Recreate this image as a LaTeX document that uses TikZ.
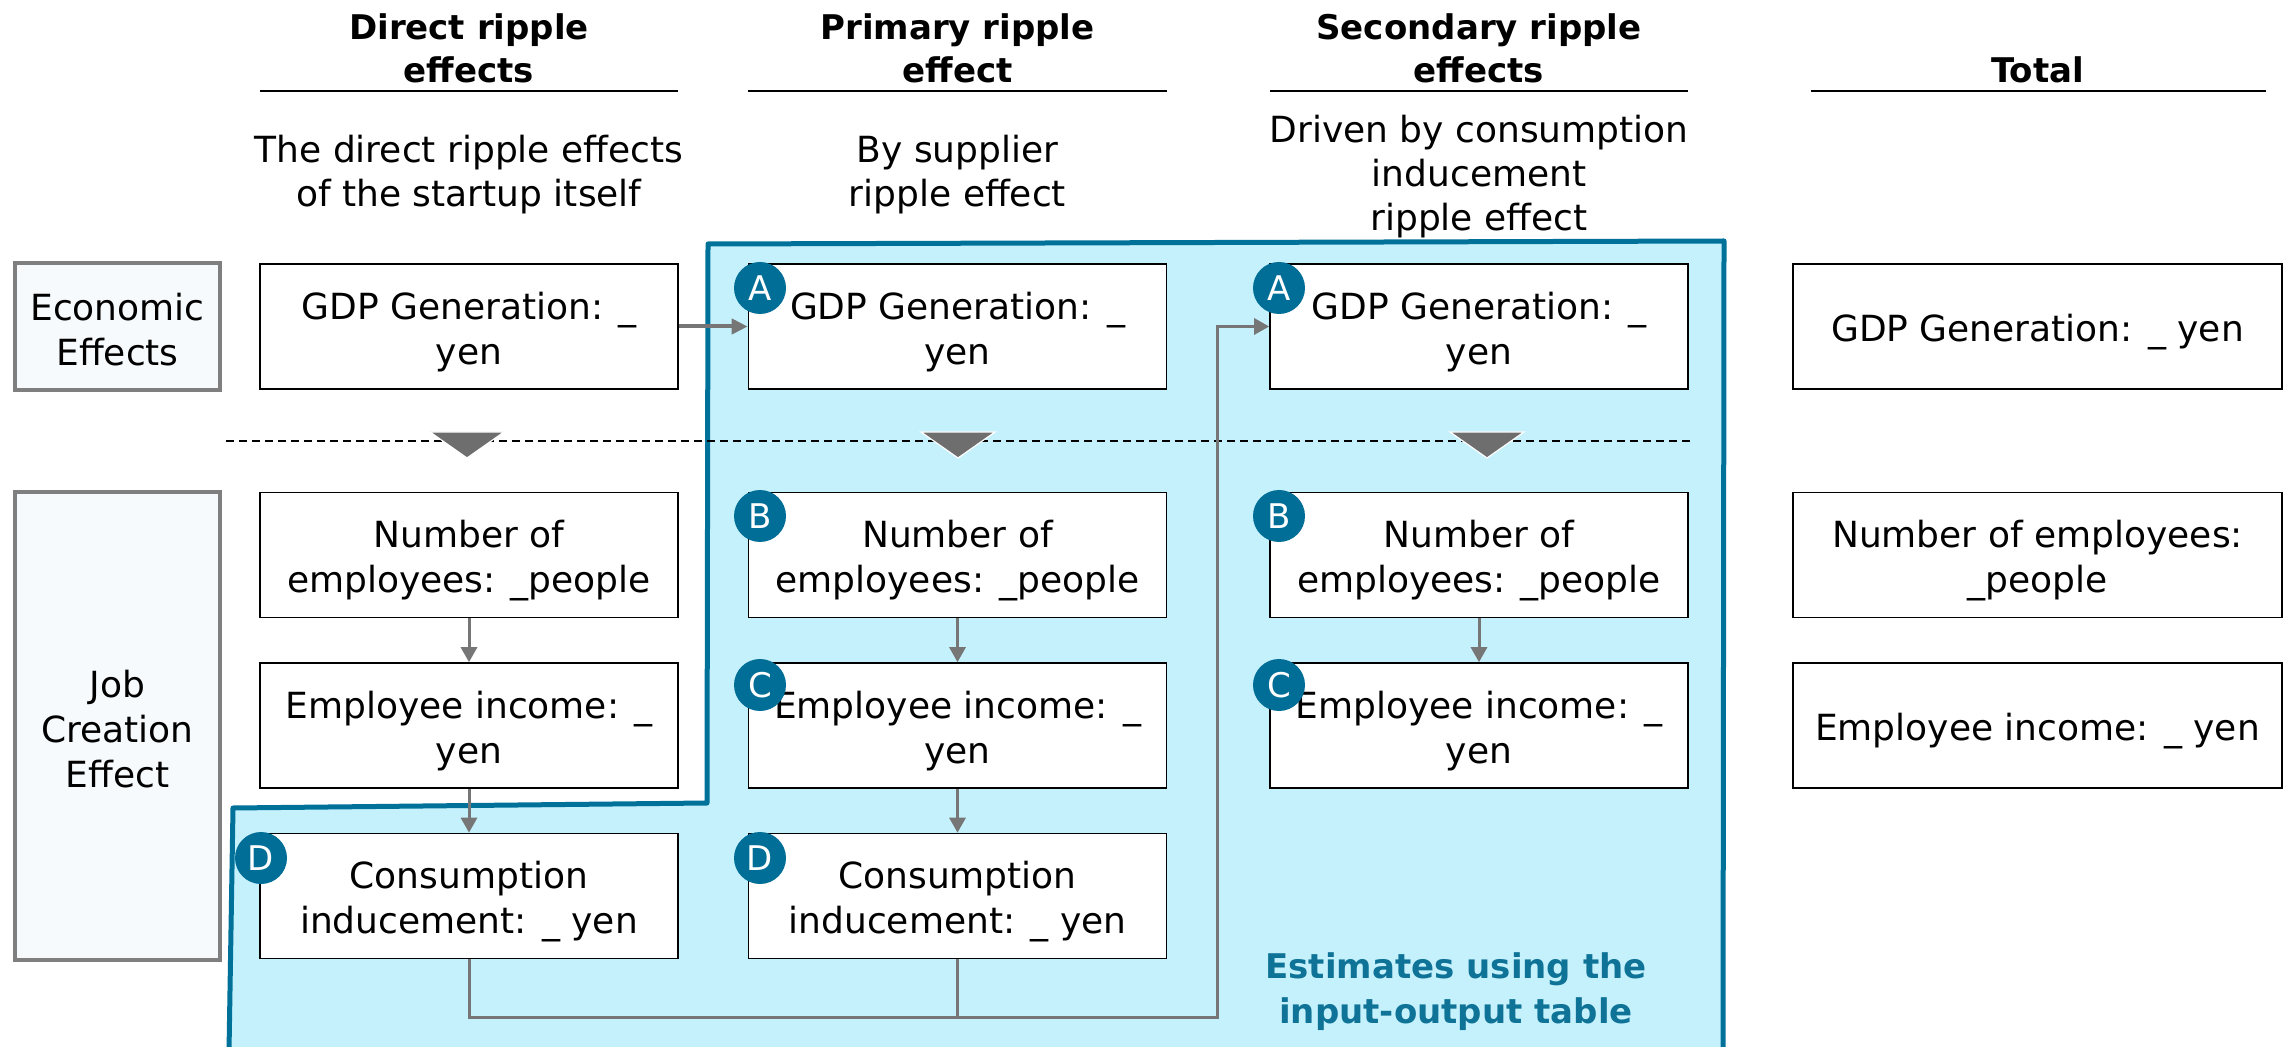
\documentclass[tikz,border=0pt]{standalone}
\usepackage{fontspec}
\setmainfont{DejaVu Sans}
\usetikzlibrary{arrows.meta}

\definecolor{badgeblue}{RGB}{0,110,150}
\definecolor{regionfill}{RGB}{197,241,253}
\definecolor{regionline}{RGB}{0,114,154}
\definecolor{arrowgray}{RGB}{118,118,118}
\definecolor{markgray}{RGB}{110,110,110}
\definecolor{sidefill}{RGB}{247,250,252}
\definecolor{sideline}{RGB}{127,127,127}
\definecolor{estcolor}{RGB}{14,115,150}

\begin{document}
\begin{tikzpicture}[x=0.5pt,y=-0.5pt,
  every node/.style={font=\fontsize{18}{22.5}\selectfont},
  effbox/.style={draw=black, line width=0.8pt, fill=white,
    inner sep=0pt, minimum width=209pt, minimum height=62.5pt},
  totbox/.style={effbox, minimum width=244.5pt},
  boxtext/.style={align=center, inner sep=0pt, yshift=-3pt,
    font=\fontsize{18}{22.5}\selectfont},
  sidebox/.style={draw=sideline, line width=2pt, fill=sidefill,
    inner sep=0pt, minimum width=102.5pt},
  sidetext/.style={align=center, inner sep=0pt, yshift=-1.5pt,
    font=\fontsize{18}{22.5}\selectfont},
  colhead/.style={align=center, inner sep=0pt, font=\fontsize{17}{21.5}\selectfont\bfseries},
  colsub/.style={align=center, inner sep=0pt, font=\fontsize{18}{22}\selectfont},
  headrule/.style={line width=1pt},
  badge/.style={circle, fill=badgeblue, text=white, inner sep=0pt,
    minimum size=26pt, font=\fontsize{17}{17}\selectfont},
  flow/.style={draw=arrowgray, line width=1.5pt,
    -{Triangle[length=7.5pt,width=8pt]}},
  bigflow/.style={draw=arrowgray, line width=2pt,
    -{Triangle[length=8pt,width=7.5pt]}},
  feed/.style={draw=arrowgray, line width=1.5pt},
  marker/.style={fill=markgray, draw=white, line width=0.6pt},
  estnote/.style={align=center, inner sep=0pt, text=estcolor,
    font=\fontsize{17}{22.5}\selectfont\bfseries}
]
\useasboundingbox (0,0) rectangle (2290,1047);

% shaded area covered by the input-output table estimates
\fill[regionfill] (229,1052) -- (233,808) -- (707,803) -- (708,244)
  -- (1724,241) -- (1723,1052) -- cycle;
\draw[regionline, line width=2.5pt, line join=round]
  (229,1052) -- (233,808) -- (707,803) -- (708,244)
  -- (1724,241) -- (1723,1052);

% column headings
\node[colhead] (hd) at (469,48.5) {Direct ripple\\effects};
\node[colhead] (hp) at (957.5,48.5) {Primary ripple\\effect};
\node[colhead] (hs) at (1479,48.5) {Secondary ripple\\effects};
\node[colhead] (ht) at (2037.5,70) {Total};
\draw[headrule] (260,91) -- (678,91);
\draw[headrule] (748,91) -- (1167,91);
\draw[headrule] (1270,91) -- (1688,91);
\draw[headrule] (1811,91) -- (2266,91);

\node[colsub] (sd) at (469,175) {The direct ripple effects\\of the startup itself};
\node[colsub] (sp) at (957.5,175) {By supplier\\ripple effect};
\node[colsub] (ss) at (1479,177) {Driven by consumption\\inducement\\ripple effect};

% row labels
\node[sidebox, minimum height=63.5pt] (econ) at (117.5,326.5) {};
\node[sidetext] (econt) at (econ) {Economic\\Effects};
\node[sidebox, minimum height=234pt] (job) at (117.5,726) {};
\node[sidetext] (jobt) at (job) {Job\\Creation\\Effect};

% divider between the two kinds of effect
\draw[dashed, dash pattern=on 4pt off 2.5pt, line width=0.7pt] (226,441) -- (1693,441);
\foreach \cx in {467,958,1487}
  \filldraw[marker] (\cx-37,432) -- (\cx+37,432) -- (\cx,458) -- cycle;

% direct ripple effects
\node[effbox] (d1) at (469,326.5) {};
\node[effbox] (d2) at (469,555) {};
\node[effbox] (d3) at (469,725.5) {};
\node[effbox] (d4) at (469,896) {};
\node[boxtext] (d1t) at (d1) {GDP Generation: \_\\yen};
\node[boxtext] (d2t) at (d2) {Number of\\employees: \_people};
\node[boxtext] (d3t) at (d3) {Employee income: \_\\yen};
\node[boxtext] (d4t) at (d4) {Consumption\\inducement: \_ yen};

% primary ripple effect
\node[effbox] (p1) at (957.5,326.5) {};
\node[effbox] (p2) at (957.5,555) {};
\node[effbox] (p3) at (957.5,725.5) {};
\node[effbox] (p4) at (957.5,896) {};
\node[boxtext] (p1t) at (p1) {GDP Generation: \_\\yen};
\node[boxtext] (p2t) at (p2) {Number of\\employees: \_people};
\node[boxtext] (p3t) at (p3) {Employee income: \_\\yen};
\node[boxtext] (p4t) at (p4) {Consumption\\inducement: \_ yen};

% secondary ripple effects
\node[effbox] (s1) at (1479,326.5) {};
\node[effbox] (s2) at (1479,555) {};
\node[effbox] (s3) at (1479,725.5) {};
\node[boxtext] (s1t) at (s1) {GDP Generation: \_\\yen};
\node[boxtext] (s2t) at (s2) {Number of\\employees: \_people};
\node[boxtext] (s3t) at (s3) {Employee income: \_\\yen};

% totals
\node[totbox] (t1) at (2037.5,326.5) {};
\node[totbox] (t2) at (2037.5,555) {};
\node[totbox] (t3) at (2037.5,725.5) {};
\node[boxtext] (t1t) at (t1) {GDP Generation: \_ yen};
\node[boxtext] (t2t) at (t2) {Number of employees:\\\_people};
\node[boxtext] (t3t) at (t3) {Employee income: \_ yen};

% connectors
\draw[bigflow] (d1.east) -- (p1.west);
\draw[flow] (d2) -- (d3);
\draw[flow] (d3) -- (d4);
\draw[flow] (p2) -- (p3);
\draw[flow] (p3) -- (p4);
\draw[flow] (s2) -- (s3);
\coordinate (jn) at (1217,1017);
\draw[feed] (p4.south) -- (p4.south |- jn);
\draw[flow] (d4.south) |- (jn) |- (s1.west);

% item markers
\node[badge] (ap) at (760,288) {A};
\node[badge] (bp) at (760,516) {B};
\node[badge] (cp) at (760,685) {C};
\node[badge] (dp) at (760,858) {D};
\node[badge] (dd) at (261,858) {D};
\node[badge] (as) at (1279,288) {A};
\node[badge] (bs) at (1279,516) {B};
\node[badge] (cs) at (1279,685) {C};

\node[estnote] (est) at (1456,992) {Estimates using the\\input-output table};
\end{tikzpicture}
\end{document}
